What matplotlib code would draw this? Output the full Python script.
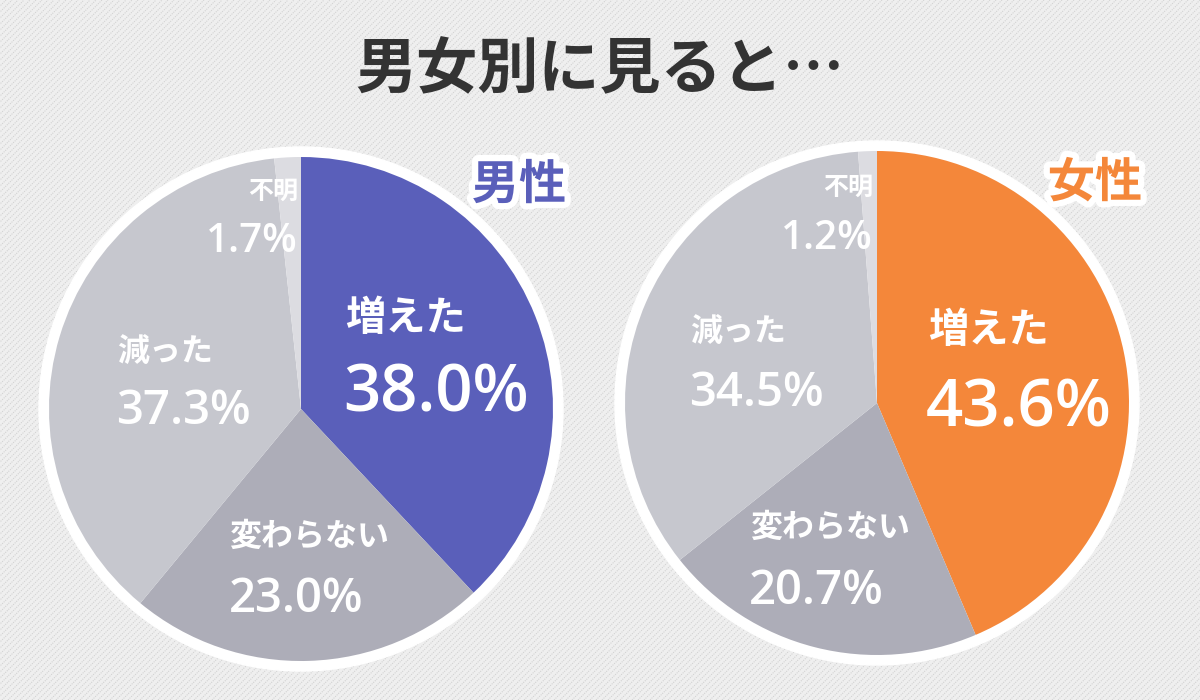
import numpy as np
import matplotlib
matplotlib.use('Agg')
import matplotlib.pyplot as plt
import matplotlib.patches as mpatches
import matplotlib.patheffects as pe

plt.rcParams['font.family'] = ['Noto Sans CJK JP', 'DejaVu Sans']

# Data
categories = ['増えた', '変わらない', '減った', '不明']
male_values = [38.0, 23.0, 37.3, 1.7]
female_values = [43.6, 20.7, 34.5, 1.2]
title = '男女別に見ると…'

# Colours
male_main = '#5a5fba'
female_main = '#f4873a'
grey_cols = ['#adadb8', '#c6c7ce', '#dcdce1']
bg = '#efefef'

H = 700
fig = plt.figure(figsize=(12, 7), dpi=100, facecolor=bg)
ax = fig.add_axes([0, 0, 1, 1])
ax.set_facecolor(bg)

# Diagonal dotted stripes in the background
for c in range(-H, 1200, 6):
    ax.plot([c, c + H], [0, H], color='#d2d2d2', lw=0.8,
            linestyle=(0, (1, 1)), zorder=0)


def draw_pie(values, main_col, cx, cy, r):
    cy = H - cy
    ax.add_patch(mpatches.Circle((cx, cy), r + 10, color='white', zorder=1))
    wedges, _ = ax.pie(values, colors=[main_col] + grey_cols, startangle=90,
                       counterclock=False, center=(cx, cy), radius=r,
                       frame=True, wedgeprops=dict(linewidth=0))
    for w in wedges:
        w.set_zorder(2)


draw_pie(male_values, male_main, 301, 409, 252)
draw_pie(female_values, female_main, 877, 403, 252)

ax.set_xlim(0, 1200)
ax.set_ylim(0, H)
ax.set_aspect('equal')
ax.axis('off')

num_font = ['Open Sans', 'Noto Sans CJK JP']


def label(x, y, s, size, ha='left', numeric=False):
    fam = num_font if numeric else ['Noto Sans CJK JP', 'DejaVu Sans']
    ax.text(x, H - y, s, fontsize=size, color='white', ha=ha, va='center',
            family=fam, fontweight='semibold' if numeric else 'bold', zorder=5)


def pct(v):
    return f'{v:.1f}%'


# Male labels
label(345, 318, categories[0], 29)
label(343, 395, pct(male_values[0]), 47, numeric=True)
label(229, 537, categories[1], 23)
label(229, 599, pct(male_values[1]), 34, numeric=True)
label(117, 353, categories[2], 23)
label(116, 411, pct(male_values[2]), 34, numeric=True)
label(298, 192, categories[3], 18, ha='right')
label(298, 242, pct(male_values[3]), 29, ha='right', numeric=True)

# Female labels
label(928, 330, categories[0], 29)
label(926, 410, pct(female_values[0]), 47, numeric=True)
label(750, 528, categories[1], 23)
label(749, 591, pct(female_values[1]), 34, numeric=True)
label(690, 333, categories[2], 23)
label(689, 393, pct(female_values[2]), 34, numeric=True)
label(873, 188, categories[3], 18, ha='right')
label(873, 239, pct(female_values[3]), 29, ha='right', numeric=True)

# Group headings
stroke = [pe.withStroke(linewidth=9, foreground='white')]
ax.text(519, H - 185, '男性', fontsize=34, color=male_main, ha='center',
        va='center', fontweight='bold', path_effects=stroke, zorder=6)
ax.text(1095, H - 183, '女性', fontsize=34, color=female_main, ha='center',
        va='center', fontweight='bold', path_effects=stroke, zorder=6)

# Title
ax.text(600, H - 71, title, fontsize=44, color='#333333', ha='center',
        va='center', fontweight='bold', zorder=6)

plt.savefig('out.png', dpi=100, facecolor=bg)
